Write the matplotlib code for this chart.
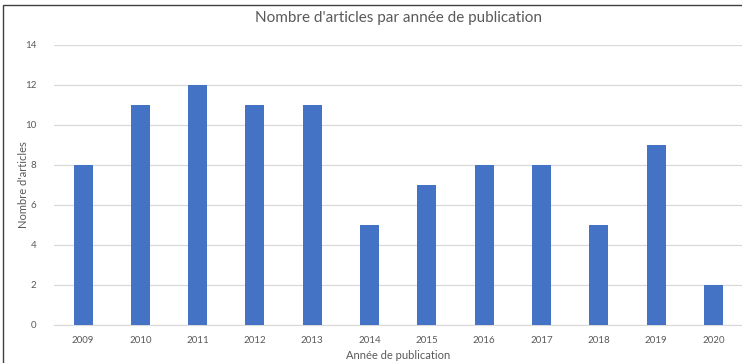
import matplotlib
matplotlib.use("Agg")
import matplotlib.pyplot as plt
from matplotlib.patches import Rectangle

years = ["2009", "2010", "2011", "2012", "2013", "2014", "2015", "2016", "2017", "2018", "2019", "2020"]
counts = [8, 11, 12, 11, 11, 5, 7, 8, 8, 5, 9, 2]
yticks = [0, 2, 4, 6, 8, 10, 12, 14]

plt.rcParams['font.family'] = ['Lato', 'DejaVu Sans']

W, H = 742, 363
fig = plt.figure(figsize=(W / 100, H / 100), dpi=100)
ax_left = 54.4
ax_w = 742 - ax_left
ax = fig.add_axes([ax_left / W, (H - 325) / H, ax_w / W, (325 - 45) / H])

x = list(range(len(years)))
ax.bar(x, counts, width=0.33, color="#4472C4", zorder=3)
ax.set_xlim(-0.5, len(years) - 0.5)
ax.set_ylim(0, 14)
ax.set_yticks(yticks)
ax.set_xticks(x)
ax.set_xticklabels(years)
ax.grid(axis="y", color="#D9D9D9", linewidth=0.9, zorder=0)
for s in ax.spines.values():
    s.set_visible(False)
ax.spines["bottom"].set_visible(True)
ax.spines["bottom"].set_color("#D9D9D9")
ax.tick_params(axis="both", length=0, labelsize=7, colors="#595959", pad=8)
ax.tick_params(axis="y", pad=13)
ax.set_xlabel("Année de publication", fontsize=8, color="#595959")
ax.xaxis.set_label_coords(0.5, -(350 - 325) / 280, transform=ax.transAxes)
ax.set_ylabel("Nombre d'articles", fontsize=8, color="#595959")
ax.yaxis.set_label_coords((29 - ax_left) / ax_w, 0.5)

fig.text((ax_left + 742) / 2 / W, 1 - 18 / H, "Nombre d'articles par année de publication",
         ha="center", va="center", fontsize=11, color="#595959")

fig.patches.append(Rectangle((3 / W, -0.1), 1.0, 1.1 - 5 / H, transform=fig.transFigure,
                             fill=False, edgecolor="#404040", linewidth=1.0))

fig.savefig("out.png", dpi=100)
